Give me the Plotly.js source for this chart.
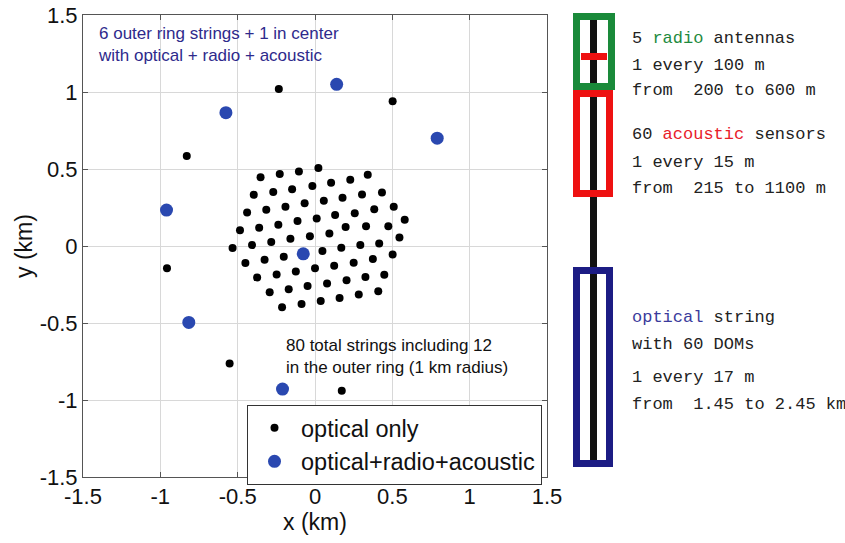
<!DOCTYPE html>
<html>
<head>
<meta charset="utf-8">
<script src="https://cdn.plot.ly/plotly-3.0.1.min.js"></script>
<style>html,body{margin:0;padding:0;background:#fff;}#chart{width:845px;height:543px;}</style>
</head>
<body>
<div id="chart"></div>
<script>
// Optical-only strings (km)
const opticalX = [
  0.022,-0.104,-0.228,-0.352,0.341,0.228,0.104,-0.017,-0.148,-0.270,-0.396,
  0.433,0.304,0.178,0.057,-0.067,-0.191,-0.315,-0.439,
  0.509,0.383,0.257,0.130,0.011,-0.113,-0.237,-0.361,-0.485,
  0.580,0.474,0.330,0.198,0.093,-0.033,-0.159,-0.283,-0.407,-0.533,
  0.546,0.415,0.293,0.170,0.048,-0.202,-0.326,-0.450,
  0.502,0.374,0.250,0.124,0.000,-0.124,-0.248,-0.374,
  0.448,0.326,0.204,0.078,-0.048,-0.170,-0.293,
  0.409,0.283,0.159,0.037,-0.087,-0.213,
  -0.234,0.502,-0.829,-0.957,-0.552,0.173
];
const opticalY = [
  0.506,0.483,0.468,0.447,0.462,0.430,0.411,0.389,0.368,0.351,0.332,
  0.347,0.334,0.313,0.294,0.277,0.255,0.236,0.217,
  0.255,0.238,0.213,0.202,0.179,0.162,0.138,0.119,0.102,
  0.170,0.128,0.128,0.123,0.081,0.064,0.047,0.026,0.006,-0.013,
  0.055,0.017,0.006,-0.011,-0.032,-0.070,-0.089,-0.111,
  -0.055,-0.085,-0.109,-0.128,-0.145,-0.166,-0.185,-0.204,
  -0.187,-0.202,-0.223,-0.243,-0.260,-0.281,-0.300,
  -0.294,-0.315,-0.338,-0.357,-0.377,-0.398,
  1.020,0.940,0.585,-0.145,-0.763,-0.940
];
// Optical + radio + acoustic strings (km)
const comboX = [0.140,-0.576,0.790,-0.960,-0.816,-0.210,-0.076];
const comboY = [1.050,0.866,0.700,0.233,-0.496,-0.929,-0.051];

const seriesNames = ['optical only','optical+radio+acoustic'];
const tickVals = [-1.5,-1,-0.5,0,0.5,1,1.5];
const tickText = ['-1.5','-1','-0.5','0','0.5','1','1.5'];

const noteTop = '6 outer ring strings + 1 in center<br>with optical + radio + acoustic';
const noteBottom = '80 total strings including 12<br>in the outer ring (1 km radius)';

const radioLines = ['5 <span style="color:#1e8a3e">radio</span> antennas','1 every 100 m','from  200 to 600 m'];
const acousticLines = ['60 <span style="color:#e8202a">acoustic</span> sensors','1 every 15 m','from  215 to 1100 m'];
const opticalLines = ['<span style="color:#3b3b9c">optical</span> string','with 60 DOMs','1 every 17 m','from  1.45 to 2.45 km'];

// pixel -> paper helpers for the side diagram (plot area 83..547 x 15..477)
const L=83, R=547, T=15, B=477;
const px = v => (v-L)/(R-L);
const py = v => (B-v)/(B-T);

const font = 'Liberation Sans, Arial, Helvetica, sans-serif';
const mono = 'Liberation Mono, Courier New, monospace';

const traces = [
  {x: opticalX, y: opticalY, mode:'markers', type:'scatter', name: seriesNames[0],
   marker:{color:'#000000', size:8}},
  {x: comboX, y: comboY, mode:'markers', type:'scatter', name: seriesNames[1],
   marker:{color:'#2a48b0', size:13}}
];

const shapes = [
  {type:'line', xref:'paper', yref:'paper', x0:px(593.5), x1:px(593.5), y0:py(14), y1:py(462), line:{color:'#111', width:7}},
  {type:'rect', xref:'paper', yref:'paper', x0:px(576.5), x1:px(611.5), y0:py(86.5), y1:py(16.5), line:{color:'#1a8a3a', width:7}},
  {type:'rect', xref:'paper', yref:'paper', x0:px(576.5), x1:px(609.5), y0:py(193.5), y1:py(93.5), line:{color:'#ee1111', width:7}},
  {type:'rect', xref:'paper', yref:'paper', x0:px(581), x1:px(607), y0:py(60), y1:py(53), line:{width:0}, fillcolor:'#ee1111'},
  {type:'rect', xref:'paper', yref:'paper', x0:px(576.5), x1:px(609.5), y0:py(463.5), y1:py(270.5), line:{color:'#1c1c84', width:7}}
];

const annotations = [
  {xref:'paper', yref:'paper', x:px(96), y:py(22), xanchor:'left', yanchor:'top', align:'left', showarrow:false,
   text: noteTop, font:{family:font, size:17, color:'#2e2a8c'}},
  {xref:'paper', yref:'paper', x:px(284), y:py(334), xanchor:'left', yanchor:'top', align:'left', showarrow:false,
   text: noteBottom, font:{family:font, size:17, color:'#111'}}
];
const sideRows = [
  [radioLines, [38,65,91]],
  [acousticLines, [134,162,188]],
  [opticalLines, [317,344,377,404]]
];
sideRows.forEach(([lines, ys]) => lines.forEach((t,i) => annotations.push({
  xref:'paper', yref:'paper', x:px(630), y:py(ys[i]), xanchor:'left', yanchor:'middle', showarrow:false,
  text:t, font:{family:mono, size:17, color:'#222'}
})));

const axisCommon = {
  range:[-1.5,1.5], tickvals: tickVals, ticktext: tickText,
  showgrid:true, gridcolor:'#d8d8d8', gridwidth:1, zeroline:false,
  showline:true, linecolor:'#555', linewidth:1, mirror:'ticks',
  ticks:'inside', ticklen:5, tickcolor:'#555',
  tickfont:{family:font, size:22, color:'#111'}
};

const layout = {
  width:845, height:543,
  margin:{l:L, r:845-R, t:T, b:543-B, pad:0},
  paper_bgcolor:'#fff', plot_bgcolor:'#fff',
  showlegend:true,
  legend:{x:px(247), y:py(405), xanchor:'left', yanchor:'top', bgcolor:'#fff',
    bordercolor:'#333', borderwidth:1, font:{family:font, size:23.5, color:'#111'},
    itemsizing:'trace', itemwidth:43, tracegroupgap:0},
  xaxis: Object.assign({}, axisCommon, {title:{text:'x (km)', font:{family:font, size:23, color:'#111'}, standoff:4}}),
  yaxis: Object.assign({}, axisCommon, {title:{text:'y (km)', font:{family:font, size:23, color:'#111'}, standoff:0}}),
  shapes: shapes,
  annotations: annotations
};

Plotly.newPlot('chart', traces, layout, {displayModeBar:false, staticPlot:true});
</script>
</body>
</html>
